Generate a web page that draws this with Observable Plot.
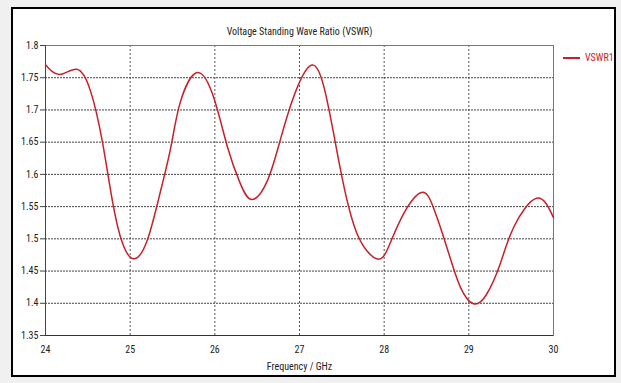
<!DOCTYPE html>
<html>
<head>
<meta charset="utf-8">
<script src="https://cdn.jsdelivr.net/npm/d3@7"></script>
<script src="https://cdn.jsdelivr.net/npm/@observablehq/plot@0.6"></script>
<style>
  html, body { margin: 0; padding: 0; background: #f0f0f0; }
  #wrap { position: relative; width: 621px; height: 383px; overflow: hidden; background: #f0f0f0; }
  #box { position: absolute; left: 11px; top: 7px; width: 605px; height: 370px; border: 2px solid #000; background: #fff; box-sizing: border-box; }
  #chart { position: absolute; left: 0; top: 0; }
  #legend { position: absolute; left: 563px; top: 52px; font-size: 10px; color: #c8202a; display: flex; align-items: center; white-space: nowrap; }
  #legend .sw { width: 17px; height: 2px; background: #c8202a; margin-right: 5px; }
</style>
</head>
<body>
<div id="wrap">
  <div id="box"></div>
  <div id="chart"></div>
  <div id="legend"><span class="sw"></span><span id="legtext"></span></div>
</div>
<script>
const title = "Voltage Standing Wave Ratio (VSWR)";
const xLabel = "Frequency / GHz";
const seriesName = "VSWR1";
const xTicks = [24, 25, 26, 27, 28, 29, 30];
const yTicks = [1.35, 1.4, 1.45, 1.5, 1.55, 1.6, 1.65, 1.7, 1.75, 1.8];
const freq = [24.0, 24.17, 24.37, 24.53, 24.67, 24.79, 24.91, 25.05, 25.2, 25.34, 25.48, 25.59, 25.79, 25.99, 26.15, 26.3, 26.44, 26.62, 26.77, 26.93, 27.12, 27.29, 27.48, 27.68, 27.91, 28.05, 28.23, 28.44, 28.58, 28.74, 28.9, 29.06, 29.21, 29.37, 29.53, 29.8, 30.0];
const vswr = [1.770, 1.755, 1.763, 1.730, 1.652, 1.559, 1.493, 1.469, 1.497, 1.564, 1.642, 1.711, 1.758, 1.718, 1.642, 1.586, 1.561, 1.590, 1.652, 1.720, 1.768, 1.735, 1.610, 1.508, 1.469, 1.487, 1.539, 1.572, 1.549, 1.487, 1.425, 1.399, 1.414, 1.461, 1.518, 1.563, 1.533];

// pick the available font whose width is closest to the reference (~134px for the title at 10px)
function measure(family, stretch) {
  const s = document.createElement("span");
  s.style.cssText = `position:absolute;visibility:hidden;white-space:nowrap;font-size:10px;font-family:${family};font-stretch:${stretch}`;
  s.textContent = title;
  document.body.appendChild(s);
  const w = s.getBoundingClientRect().width;
  s.remove();
  return w;
}
const mono = measure("monospace", "normal");
const candidates = [
  ['"Liberation Sans Narrow"', "normal"],
  ['"DejaVu Sans Condensed"', "normal"],
  ['"DejaVu Sans"', "condensed"],
  ['"Roboto Condensed"', "normal"],
  ['"Liberation Sans"', "normal"]
];
let best = null;
for (const [fam, st] of candidates) {
  const w = measure(fam + ", monospace", st);
  if (Math.abs(w - mono) < 0.5) continue;
  const score = Math.abs(w - 134);
  if (!best || score < best.score) best = {fam, st, w, score};
}
const font = best ? best.fam + ", sans-serif" : "sans-serif";
const stretch = best ? best.st : "normal";

const legend = document.getElementById("legend");
legend.style.fontFamily = font;
legend.style.fontStretch = stretch;
document.getElementById("legtext").textContent = seriesName;

const data = freq.map((f, i) => ({f, v: vswr[i]}));
const fmt = d => String(+d.toFixed(2));

const chart = Plot.plot({
  width: 621,
  height: 383,
  marginLeft: 45,
  marginRight: 68,
  marginTop: 45,
  marginBottom: 48,
  style: { background: "transparent", fontFamily: font, fontSize: "10px", color: "#222", fontStretch: stretch },
  x: { domain: [24, 30], ticks: xTicks },
  y: { domain: [1.35, 1.8], ticks: yTicks },
  marks: [
    Plot.gridX(xTicks.slice(1, -1), { stroke: "#555", strokeOpacity: 1, strokeDasharray: "2,2", strokeWidth: 1 }),
    Plot.gridY(yTicks.slice(1, -1), { stroke: "#444", strokeOpacity: 1, strokeDasharray: "2,1", strokeWidth: 1 }),
    Plot.frame({ stroke: "#777", strokeWidth: 1 }),
    Plot.axisX(xTicks, { tickSize: 0, tickPadding: 10, tickFormat: d => String(d), label: null, fontSize: 10 }),
    Plot.axisY(yTicks, { tickSize: 5, tickPadding: 2, tickFormat: fmt, label: null, fontSize: 10, stroke: "#444" }),
    Plot.ruleY([1.35], { stroke: "#333", strokeWidth: 1 }),
    Plot.ruleX([24], { stroke: "#444", strokeWidth: 1 }),
    Plot.line(data, { x: "f", y: "v", stroke: "#c8202a", strokeWidth: 1.5, curve: "natural" }),
    Plot.text([title], { frameAnchor: "top", dy: -18, text: d => d, fontSize: 10, fill: "#222" }),
    Plot.text([xLabel], { frameAnchor: "bottom", dy: 34, text: d => d, fontSize: 10, fill: "#222" })
  ]
});
document.getElementById("chart").appendChild(chart);
</script>
</body>
</html>
